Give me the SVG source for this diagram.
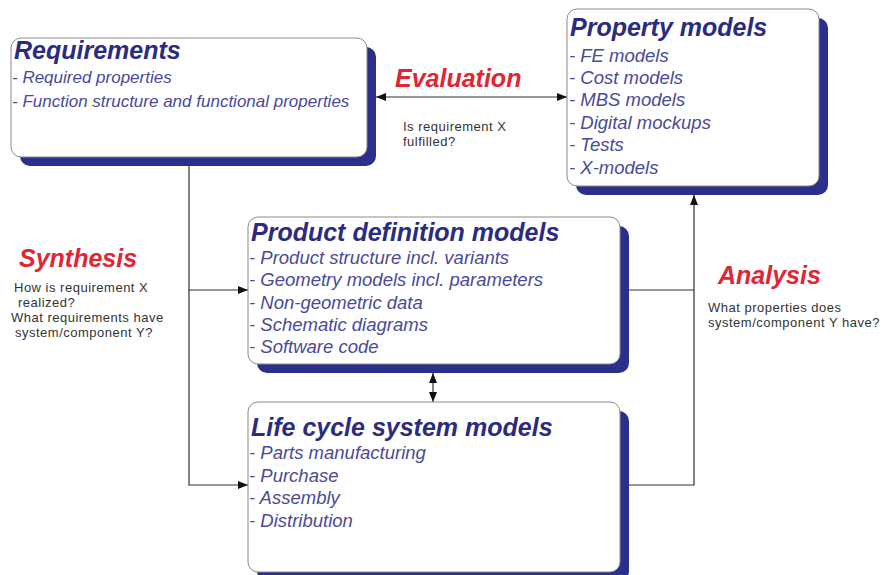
<svg xmlns="http://www.w3.org/2000/svg" width="888" height="575" viewBox="0 0 888 575">
  <style>
    .shadow { fill: #2c2e8c; }
    .box { fill: #ffffff; stroke: #8a8a8a; stroke-width: 1; }
    .title { font-family: "Liberation Sans", Arial, sans-serif; font-weight: bold; font-style: italic; font-size: 25px; fill: #2b2b80; }
    .item { font-family: "Liberation Sans", Arial, sans-serif; font-style: italic; font-size: 18.5px; fill: #4a4a98; }
    .item-s { font-size: 17px; }
    .act { font-family: "Liberation Sans", Arial, sans-serif; font-weight: bold; font-style: italic; font-size: 25px; fill: #e02535; }
    .note { font-family: "Liberation Sans", Arial, sans-serif; font-size: 13px; letter-spacing: 0.5px; fill: #333333; }
    .link { fill: none; stroke: #333333; stroke-width: 1.2; }
  </style>
  <defs>
    <marker id="head" viewBox="0 0 10 8" refX="10" refY="4" markerWidth="10" markerHeight="8" markerUnits="userSpaceOnUse" orient="auto-start-reverse">
      <path d="M0,0 L10,4 L0,8 Z" fill="#111111"/>
    </marker>
  </defs>
  <rect width="888" height="575" fill="#ffffff"/>

  <!-- connectors -->
  <g id="connectors">
    <!-- evaluation: requirements <-> property models -->
    <line class="link" x1="376" y1="97" x2="567" y2="97" marker-start="url(#head)" marker-end="url(#head)"/>
    <!-- synthesis: requirements -> product / life cycle -->
    <polyline class="link" points="189,158 189,485 248,485" marker-end="url(#head)"/>
    <line class="link" x1="189" y1="290" x2="248" y2="290" marker-end="url(#head)"/>
    <!-- product <-> life cycle -->
    <line class="link" x1="433" y1="373" x2="433" y2="402" marker-start="url(#head)" marker-end="url(#head)"/>
    <!-- analysis: product / life cycle -> property models -->
    <polyline class="link" points="628,485 694,485 694,195" marker-end="url(#head)"/>
    <line class="link" x1="628" y1="290" x2="694" y2="290"/>
  </g>

  <!-- requirements -->
  <g id="requirements">
    <rect class="shadow" x="20" y="47" width="356" height="119" rx="10"/>
    <rect class="box" x="11" y="38" width="356" height="119" rx="10"/>
    <text class="title" x="14" y="59">Requirements</text>
    <text class="item item-s" x="12" y="83">- Required properties</text>
    <text class="item item-s" x="12" y="107">- Function structure and functional properties</text>
  </g>

  <!-- property models -->
  <g id="property-models">
    <rect class="shadow" x="576" y="18" width="252" height="177" rx="10"/>
    <rect class="box" x="567" y="9" width="252" height="177" rx="10"/>
    <text class="title" x="570" y="36">Property models</text>
    <text class="item" x="569" y="62">- FE models</text>
    <text class="item" x="569" y="84">- Cost models</text>
    <text class="item" x="569" y="106">- MBS models</text>
    <text class="item" x="569" y="129">- Digital mockups</text>
    <text class="item" x="569" y="151">- Tests</text>
    <text class="item" x="569" y="174">- X-models</text>
  </g>

  <!-- product definition models -->
  <g id="product-definition">
    <rect class="shadow" x="257" y="226" width="372" height="147" rx="10"/>
    <rect class="box" x="248" y="217" width="372" height="147" rx="10"/>
    <text class="title" x="251" y="241">Product definition models</text>
    <text class="item" x="249" y="264">- Product structure incl. variants</text>
    <text class="item" x="249" y="286">- Geometry models incl. parameters</text>
    <text class="item" x="249" y="309">- Non-geometric data</text>
    <text class="item" x="249" y="331">- Schematic diagrams</text>
    <text class="item" x="249" y="353">- Software code</text>
  </g>

  <!-- life cycle system models -->
  <g id="life-cycle">
    <rect class="shadow" x="257" y="411" width="372" height="170" rx="10"/>
    <rect class="box" x="248" y="402" width="372" height="170" rx="10"/>
    <text class="title" x="251" y="436">Life cycle system models</text>
    <text class="item" x="249" y="459">- Parts manufacturing</text>
    <text class="item" x="249" y="482">- Purchase</text>
    <text class="item" x="249" y="504">- Assembly</text>
    <text class="item" x="249" y="527">- Distribution</text>
  </g>

  <!-- activity labels -->
  <g id="evaluation">
    <text class="act" x="395" y="87">Evaluation</text>
    <text class="note" x="403" y="131">Is requirement X</text>
    <text class="note" x="403" y="146">fulfilled?</text>
  </g>
  <g id="synthesis">
    <text class="act" x="19" y="267">Synthesis</text>
    <text class="note" x="14" y="292">How is requirement X</text>
    <text class="note" x="18" y="307">realized?</text>
    <text class="note" x="11" y="322">What requirements have</text>
    <text class="note" x="15" y="337">system/component Y?</text>
  </g>
  <g id="analysis">
    <text class="act" x="718" y="284">Analysis</text>
    <text class="note" x="708" y="312">What properties does</text>
    <text class="note" x="708" y="327">system/component Y have?</text>
  </g>
</svg>
